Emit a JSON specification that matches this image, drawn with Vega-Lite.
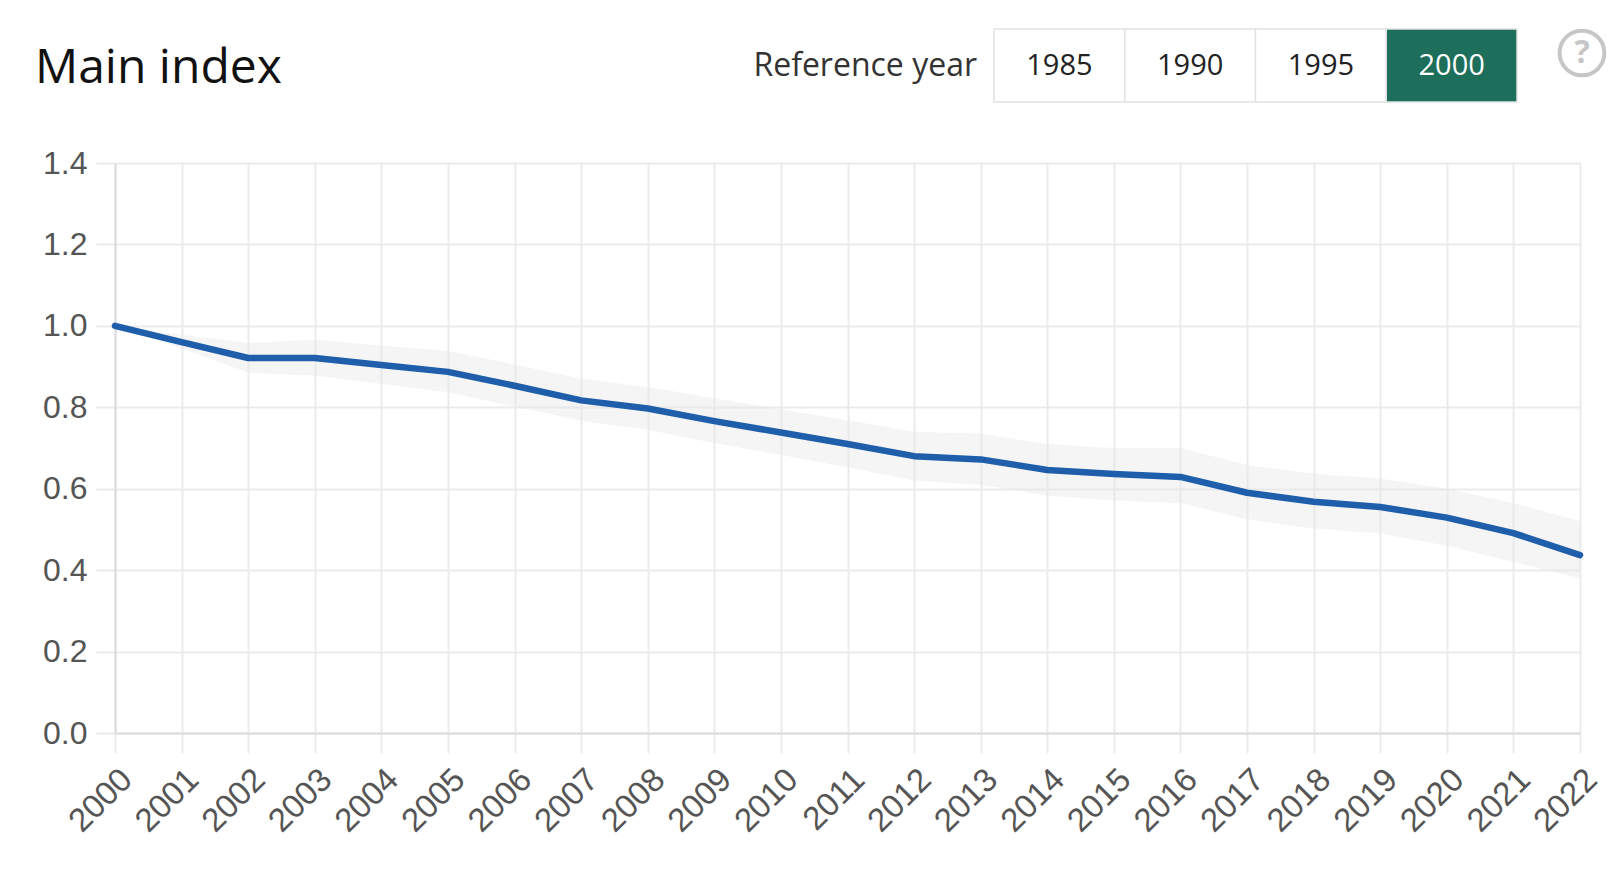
{
  "$schema": "https://vega.github.io/schema/vega-lite/v6.json",
  "padding": {"left": 35, "top": 22, "right": 0, "bottom": 0},
  "autosize": {"type": "pad"},
  "background": "white",
  "config": {"view": {"stroke": null}},
  "columns": 1,
  "bounds": "full",
  "spacing": 44,
  "concat": [
    {
      "bounds": "flush",
      "spacing": 17,
      "hconcat": [
        {
          "width": 200,
          "height": 73,
          "data": {"values": [{"label": "Main index"}]},
          "mark": {"type": "text", "align": "left", "baseline": "middle", "dx": -80, "dy": 3, "font": "Open Sans", "fontSize": 48, "color": "#111111"},
          "encoding": {
            "text": {"field": "label"},
            "x": {"datum": 0, "type": "quantitative", "scale": {"domain": [0, 1]}, "axis": null}
          }
        },
        {
          "width": 645,
          "height": 73,
          "data": {"values": [{"label": "Reference year"}]},
          "mark": {"type": "text", "align": "right", "baseline": "middle", "font": "Open Sans", "fontSize": 32, "color": "#333333"},
          "encoding": {
            "text": {"field": "label"},
            "x": {"datum": 1, "type": "quantitative", "scale": {"domain": [0, 1]}, "axis": null}
          }
        },
        {
          "bounds": "flush",
          "spacing": 33,
          "hconcat": [
            {
              "width": 523,
              "height": 73,
              "data": {"values": [
                {"year": "1985", "selected": false},
                {"year": "1990", "selected": false},
                {"year": "1995", "selected": false},
                {"year": "2000", "selected": true}
              ]},
              "encoding": {
                "x": {"field": "year", "type": "nominal", "axis": null, "scale": {"paddingInner": 0, "paddingOuter": 0}}
              },
              "layer": [
                {
                  "mark": {"type": "rect", "stroke": "#e2e2e2", "strokeWidth": 1.5},
                  "encoding": {
                    "fill": {"condition": {"test": "datum.selected", "value": "#1e6e5c"}, "value": "white"}
                  }
                },
                {
                  "mark": {"type": "text", "font": "Open Sans", "fontSize": 29},
                  "encoding": {
                    "text": {"field": "year"},
                    "color": {"condition": {"test": "datum.selected", "value": "white"}, "value": "#222222"}
                  }
                }
              ]
            },
            {
              "width": 64,
              "height": 48,
              "data": {"values": [{"icon": "?"}]},
              "layer": [
                {
                  "mark": {"type": "point", "shape": "circle", "size": 2000, "filled": false, "stroke": "#c6c6c6", "strokeWidth": 4, "opacity": 1},
                  "encoding": {}
                },
                {
                  "mark": {"type": "text", "font": "Open Sans", "fontWeight": "bold", "fontSize": 32, "color": "#c6c6c6"},
                  "encoding": {"text": {"field": "icon"}}
                }
              ]
            }
          ]
        }
      ]
    },
    {
      "width": 1465,
      "height": 570,
      "data": {"values": [
        {"year": "2000", "value": 1.000, "lo": 1.000, "hi": 1.000},
        {"year": "2001", "value": 0.960, "lo": 0.945, "hi": 0.978},
        {"year": "2002", "value": 0.921, "lo": 0.885, "hi": 0.958},
        {"year": "2003", "value": 0.921, "lo": 0.878, "hi": 0.966},
        {"year": "2004", "value": 0.904, "lo": 0.858, "hi": 0.952},
        {"year": "2005", "value": 0.887, "lo": 0.837, "hi": 0.938},
        {"year": "2006", "value": 0.853, "lo": 0.802, "hi": 0.905},
        {"year": "2007", "value": 0.817, "lo": 0.767, "hi": 0.870},
        {"year": "2008", "value": 0.797, "lo": 0.745, "hi": 0.850},
        {"year": "2009", "value": 0.766, "lo": 0.712, "hi": 0.822},
        {"year": "2010", "value": 0.738, "lo": 0.683, "hi": 0.795},
        {"year": "2011", "value": 0.710, "lo": 0.653, "hi": 0.768},
        {"year": "2012", "value": 0.680, "lo": 0.620, "hi": 0.740},
        {"year": "2013", "value": 0.672, "lo": 0.610, "hi": 0.735},
        {"year": "2014", "value": 0.646, "lo": 0.583, "hi": 0.710},
        {"year": "2015", "value": 0.636, "lo": 0.571, "hi": 0.700},
        {"year": "2016", "value": 0.629, "lo": 0.565, "hi": 0.700},
        {"year": "2017", "value": 0.590, "lo": 0.525, "hi": 0.658},
        {"year": "2018", "value": 0.568, "lo": 0.502, "hi": 0.637},
        {"year": "2019", "value": 0.555, "lo": 0.490, "hi": 0.625},
        {"year": "2020", "value": 0.529, "lo": 0.460, "hi": 0.600},
        {"year": "2021", "value": 0.491, "lo": 0.420, "hi": 0.565},
        {"year": "2022", "value": 0.437, "lo": 0.380, "hi": 0.520}
      ]},
      "encoding": {
        "x": {
          "field": "year",
          "type": "ordinal",
          "scale": {"type": "point", "padding": 0},
          "axis": {
            "title": null,
            "grid": true,
            "gridColor": "#ebebeb",
            "gridWidth": 2,
            "tickColor": "#ebebeb",
            "tickWidth": 2,
            "tickSize": 20,
            "domainColor": "#dcdcdc",
            "domainWidth": 2,
            "labelAngle": -45,
            "labelAlign": "right",
            "labelBaseline": "top",
            "labelPadding": 10,
            "labelFont": "Liberation Sans",
            "labelFontSize": 33,
            "labelColor": "#555555"
          }
        }
      },
      "layer": [
        {
          "mark": {"type": "area", "color": "#e6e6e6", "opacity": 0.42},
          "encoding": {
            "y": {
              "field": "lo",
              "type": "quantitative",
              "scale": {"domain": [0, 1.4], "nice": false},
              "axis": {
                "title": null,
                "tickCount": 7,
                "format": ".1f",
                "gridColor": "#ebebeb",
                "gridWidth": 2,
                "tickColor": "#ebebeb",
                "tickWidth": 2,
                "tickSize": 19,
                "domainColor": "#dcdcdc",
                "domainWidth": 2,
                "labelPadding": 9,
                "minExtent": 80,
                "labelFont": "Liberation Sans",
                "labelFontSize": 32,
                "labelColor": "#555555"
              }
            },
            "y2": {"field": "hi"}
          }
        },
        {
          "mark": {"type": "line", "color": "#1f5eab", "strokeWidth": 6.5, "strokeJoin": "round", "strokeCap": "round"},
          "encoding": {
            "y": {"field": "value", "type": "quantitative"}
          }
        }
      ]
    }
  ]
}
